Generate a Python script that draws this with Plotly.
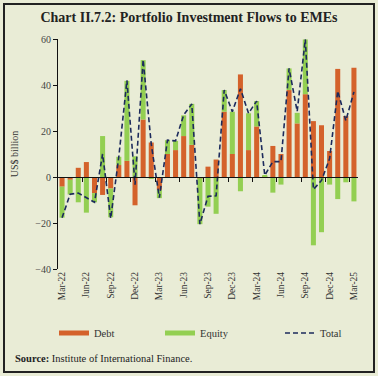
import plotly.graph_objects as go

months = ["Mar-22","Apr-22","May-22","Jun-22","Jul-22","Aug-22","Sep-22","Oct-22","Nov-22","Dec-22",
          "Jan-23","Feb-23","Mar-23","Apr-23","May-23","Jun-23","Jul-23","Aug-23","Sep-23","Oct-23",
          "Nov-23","Dec-23","Jan-24","Feb-24","Mar-24","Apr-24","May-24","Jun-24","Jul-24","Aug-24",
          "Sep-24","Oct-24","Nov-24","Dec-24","Jan-25","Feb-25","Mar-25"]

debt = [-4.2, -1.2, 4.0, 6.5, -7.0, -7.8, -5.0, 5.2, 7.0, -12.3,
        25.0, 15.0, -5.6, 10.0, 11.7, 17.8, 14.0, -0.5, 4.5, 7.6,
        28.4, 10.0, 44.6, 11.7, 22.0, 0.3, 13.5, 10.0, 37.8, 23.3,
        36.0, 24.3, 22.5, 11.3, 47.0, 26.5, 47.5]

equity = [-13.5, -6.4, -11.0, -15.5, -4.0, 17.8, -12.5, 3.6, 34.8, 9.0,
          25.8, -0.7, -3.6, 6.0, 4.0, 9.0, 17.8, -20.0, -12.9, -16.0,
          9.4, 18.4, -6.2, 16.0, 11.0, 0.4, -6.8, -3.3, 9.4, 4.6,
          23.8, -29.7, -24.0, -3.3, -9.6, -2.3, -10.6]

total = [-17.7, -7.5, -7.0, -9.0, -11.0, 10.0, -18.0, 8.8, 42.0, -3.3,
         51.0, 14.3, -9.0, 16.0, 15.7, 27.0, 31.7, -20.5, -8.4, -8.2,
         37.8, 28.4, 38.4, 27.7, 33.0, 0.7, 6.7, 6.7, 47.2, 28.5,
         59.9, -5.4, -1.5, 8.0, 37.4, 24.5, 37.0]

tick_labels = months[::3]
y_ticks = [-40, -20, 0, 20, 40, 60]

DEBT_C = "#d4622b"
EQ_C = "#93cf52"
TOT_C = "#1c2a5c"
BG = "#e9ecd6"
SERIF = "Liberation Serif"

W, H = 378, 376
L, R, T, B = 58, 20, 39, 107
PW, PH = W - L - R, H - T - B

def px(xp):
    return (xp - L) / PW

def py(yp):
    return (H - B - yp) / PH

fig = go.Figure()
fig.add_trace(go.Bar(x=months, y=debt, marker_color=DEBT_C, marker_line_width=0,
                     name="Debt", showlegend=False))
fig.add_trace(go.Bar(x=months, y=equity, marker_color=EQ_C, marker_line_width=0,
                     name="Equity", showlegend=False))
fig.add_trace(go.Scatter(x=months, y=total, mode="lines", name="Total",
                         line=dict(color=TOT_C, width=1.6, dash="5px,3px"),
                         showlegend=False))

# legend entries
fig.add_trace(go.Scatter(x=[None], y=[None], mode="lines", name="Debt",
                         line=dict(color=DEBT_C, width=5), legend="legend"))
fig.add_trace(go.Scatter(x=[None], y=[None], mode="lines", name="Equity",
                         line=dict(color=EQ_C, width=5), legend="legend2"))
fig.add_trace(go.Scatter(x=[None], y=[None], mode="lines", name="Total",
                         line=dict(color=TOT_C, width=1.6, dash="5px,3px"), legend="legend3"))

# dummy trace for the zero-crossing tick axis
fig.add_trace(go.Scatter(x=[0], y=[None], xaxis="x2", yaxis="y", mode="lines",
                         showlegend=False, hoverinfo="skip"))

leg_common = dict(orientation="h", yanchor="middle", bgcolor="rgba(0,0,0,0)",
                  font=dict(family=SERIF, size=10.5, color="#333"), borderwidth=0)

fig.update_layout(
    width=W, height=H,
    margin=dict(l=L, r=R, t=T, b=B),
    paper_bgcolor=BG, plot_bgcolor=BG,
    barmode="relative", bargap=0.38,
    title=dict(text="<b>Chart II.7.2: Portfolio Investment Flows to EMEs</b>",
               x=0.5, xref="container", xanchor="center",
               y=1 - 17 / H, yref="container", yanchor="middle",
               font=dict(family=SERIF, size=14, color="#222")),
    xaxis=dict(type="category", categoryorder="array", categoryarray=months,
               range=[-0.5, len(months) - 0.5],
               tickvals=tick_labels, ticktext=tick_labels, tickangle=-90,
               ticks="", showline=False, showgrid=False, zeroline=False,
               tickfont=dict(family=SERIF, size=9.5, color="#333")),
    xaxis2=dict(type="linear", overlaying="x", anchor="free", position=0.4, side="bottom",
                range=[-0.5, len(months) - 0.5],
                tickvals=[i + 2.5 for i in range(0, len(months) - 1, 3)],
                ticks="outside", ticklen=4, tickwidth=1, tickcolor="#111",
                showticklabels=False, showline=True, linecolor="#111", linewidth=1.2,
                showgrid=False, zeroline=False),
    yaxis=dict(range=[-40, 60], tickvals=y_ticks, ticks="outside", ticklen=4,
               tickcolor="#111", showline=True, linecolor="#111", linewidth=1,
               showgrid=False, zeroline=False,
               tickfont=dict(family=SERIF, size=10, color="#444"),
               title=dict(text="US$ billion", standoff=14,
                          font=dict(family=SERIF, size=10, color="#333"))),
    legend=dict(x=px(54), y=py(333), xanchor="left", **leg_common),
    legend2=dict(x=px(160), y=py(333), xanchor="left", **leg_common),
    legend3=dict(x=px(280), y=py(333), xanchor="left", **leg_common),
    annotations=[dict(text="<b>Source:</b> Institute of International Finance.",
                      x=px(13), y=py(358), xref="paper", yref="paper",
                      xanchor="left", yanchor="middle", showarrow=False,
                      font=dict(family=SERIF, size=10.5, color="#222"))],
    shapes=[dict(type="rect", xref="paper", yref="paper",
                 x0=px(4), x1=px(374), y0=py(372), y1=py(4),
                 line=dict(color="#222", width=2), fillcolor="rgba(0,0,0,0)", layer="below")],
)

fig.write_html("out.html", config={"displayModeBar": False},
               post_script="document.body.style.margin='0';document.body.style.overflow='hidden';")
